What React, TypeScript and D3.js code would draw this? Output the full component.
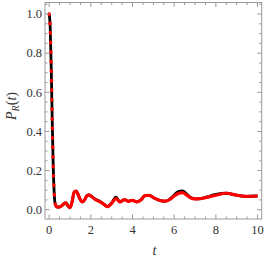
import React from "react";
import * as d3 from "d3";

const times = [
  0, 0.05, 0.1, 0.15, 0.2, 0.25, 0.3, 0.4, 0.5, 0.6, 0.7, 0.8, 0.9, 1.0, 1.1,
  1.2, 1.3, 1.4, 1.5, 1.6, 1.7, 1.8, 1.9, 2.0, 2.2, 2.4, 2.6, 2.8, 3.0, 3.2,
  3.4, 3.6, 3.8, 4.0, 4.2, 4.4, 4.6, 4.8, 5.0, 5.2, 5.4, 5.6, 5.8, 6.0, 6.2,
  6.4, 6.6, 6.8, 7.0, 7.2, 7.5, 8.0, 8.5, 9.0, 9.5, 10.0,
];
const blackValues = [
  1.0, 0.93, 0.72, 0.44, 0.2, 0.07, 0.025, 0.013, 0.014, 0.02, 0.03, 0.035,
  0.02, 0.01, 0.04, 0.09, 0.095, 0.075, 0.05, 0.04, 0.05, 0.07, 0.076, 0.07,
  0.055, 0.045, 0.03, 0.016, 0.035, 0.064, 0.04, 0.052, 0.043, 0.048, 0.04,
  0.05, 0.072, 0.073, 0.062, 0.052, 0.045, 0.044, 0.055, 0.075, 0.093, 0.096,
  0.08, 0.062, 0.055, 0.056, 0.063, 0.078, 0.084, 0.074, 0.068, 0.07,
];
const redValues = [
  1.0, 0.93, 0.72, 0.44, 0.2, 0.07, 0.025, 0.013, 0.014, 0.02, 0.03, 0.035,
  0.02, 0.01, 0.04, 0.09, 0.095, 0.075, 0.05, 0.04, 0.05, 0.07, 0.076, 0.07,
  0.053, 0.043, 0.03, 0.016, 0.033, 0.057, 0.04, 0.052, 0.043, 0.048, 0.04,
  0.05, 0.072, 0.073, 0.062, 0.052, 0.045, 0.044, 0.053, 0.07, 0.083, 0.087,
  0.075, 0.06, 0.055, 0.056, 0.062, 0.074, 0.084, 0.074, 0.068, 0.07,
];
const xTicks = [0, 2, 4, 6, 8, 10];
const yTicks = [0.0, 0.2, 0.4, 0.6, 0.8, 1.0];

const W = 266;
const H = 262;
const frame = { left: 45, right: 261.7, top: 2.5, bottom: 219 };

const App = () => {
  const x = d3.scaleLinear().domain([-0.2, 10.2]).range([frame.left, frame.right]);
  const y = d3.scaleLinear().domain([-0.0475, 1.059]).range([frame.bottom, frame.top]);

  const line = d3
    .line<[number, number]>()
    .x((d) => x(d[0]))
    .y((d) => y(d[1]))
    .curve(d3.curveMonotoneX);

  const black: [number, number][] = times.map((t, i) => [t, blackValues[i]]);
  const red: [number, number][] = times.map((t, i) => [t, redValues[i]]);
  const steepEnd = times.indexOf(0.3);
  const redSteep = red.slice(0, steepEnd + 1);
  const redRest = red.slice(steepEnd);

  const xMinor = d3.range(0, 10.01, 0.5).filter((v) => !xTicks.includes(v));
  const yMinor = d3
    .range(0, 1.051, 0.05)
    .map((v) => Math.round(v * 100) / 100)
    .filter((v) => !yTicks.some((t) => Math.abs(t - v) < 1e-6));

  const gray = "#9a9a9a";
  const major = 4.5;
  const minor = 2.5;
  const font = "'Liberation Serif', 'DejaVu Serif', serif";

  return (
    <svg width={W} height={H} style={{ position: "absolute", left: 0, top: 0 }}>
      <g clipPath="url(#clip)">
        <path d={line(black) || ""} fill="none" stroke="#000" strokeWidth={2.8} />
        <path d={line(redRest) || ""} fill="none" stroke="#ff0000" strokeWidth={3.2} strokeLinejoin="round" />
        <path
          d={line(redSteep) || ""}
          fill="none"
          stroke="#ff0000"
          strokeWidth={3.4}
          strokeLinecap="round"
          strokeDasharray="0.5 9"
        />
      </g>
      <defs>
        <clipPath id="clip">
          <rect x={frame.left} y={frame.top - 2} width={frame.right - frame.left} height={frame.bottom - frame.top + 2} />
        </clipPath>
      </defs>

      <rect
        x={frame.left}
        y={frame.top}
        width={frame.right - frame.left}
        height={frame.bottom - frame.top}
        fill="none"
        stroke={gray}
        strokeWidth={1}
      />

      {/* x ticks, bottom and top */}
      {xTicks.map((t) => (
        <g key={"xt" + t}>
          <line x1={x(t)} x2={x(t)} y1={frame.bottom} y2={frame.bottom - major} stroke={gray} />
          <line x1={x(t)} x2={x(t)} y1={frame.top} y2={frame.top + major} stroke={gray} />
          <text x={x(t)} y={233.5} textAnchor="middle" fontFamily={font} fontSize={12.5} fill="#333">
            {t}
          </text>
        </g>
      ))}
      {xMinor.map((t) => (
        <g key={"xm" + t}>
          <line x1={x(t)} x2={x(t)} y1={frame.bottom} y2={frame.bottom - minor} stroke={gray} />
          <line x1={x(t)} x2={x(t)} y1={frame.top} y2={frame.top + minor} stroke={gray} />
        </g>
      ))}

      {/* y ticks, left and right */}
      {yTicks.map((v) => (
        <g key={"yt" + v}>
          <line x1={frame.left} x2={frame.left + major} y1={y(v)} y2={y(v)} stroke={gray} />
          <line x1={frame.right} x2={frame.right - major} y1={y(v)} y2={y(v)} stroke={gray} />
          <text x={42} y={y(v) + 4.2} textAnchor="end" fontFamily={font} fontSize={12.5} fill="#333">
            {v.toFixed(1)}
          </text>
        </g>
      ))}
      {yMinor.map((v) => (
        <g key={"ym" + v}>
          <line x1={frame.left} x2={frame.left + minor} y1={y(v)} y2={y(v)} stroke={gray} />
          <line x1={frame.right} x2={frame.right - minor} y1={y(v)} y2={y(v)} stroke={gray} />
        </g>
      ))}

      <text x={154.5} y={255} textAnchor="middle" fontFamily={font} fontStyle="italic" fontSize={14} fill="#333">
        t
      </text>
      <text
        transform="translate(15.5,106) rotate(-90)"
        textAnchor="middle"
        fontFamily={font}
        fontSize={14}
        fill="#333"
      >
        <tspan fontStyle="italic">P</tspan>
        <tspan fontStyle="italic" fontSize={10} dy={3}>R</tspan>
        <tspan dy={-3}>(</tspan>
        <tspan fontStyle="italic">t</tspan>
        <tspan>)</tspan>
      </text>
    </svg>
  );
};

export default App;
